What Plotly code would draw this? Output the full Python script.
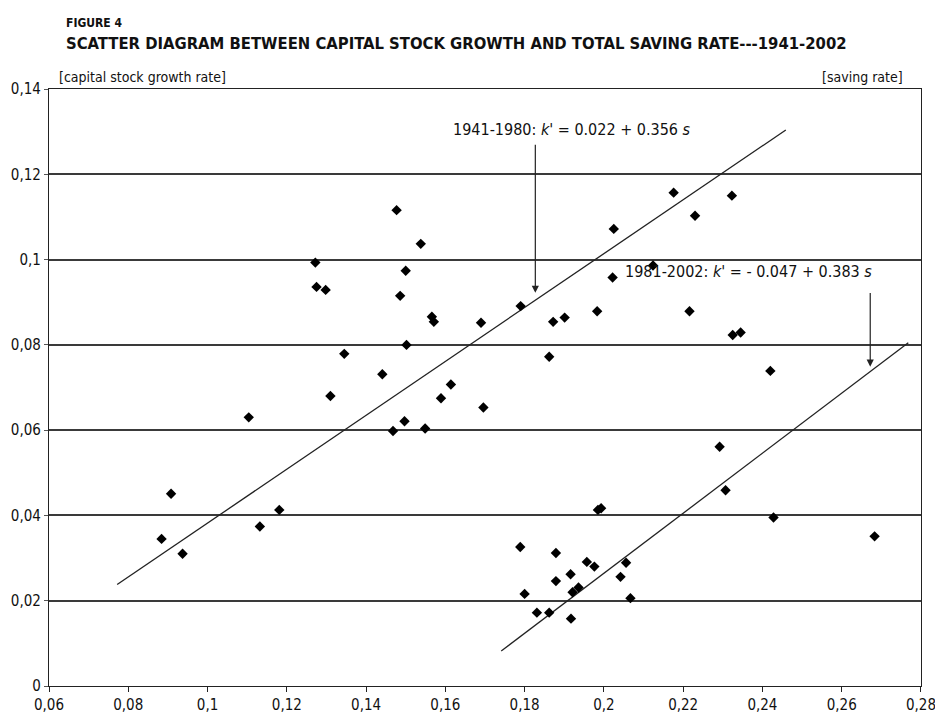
import plotly.graph_objects as go

# 1941-1980 observations (saving rate s, capital stock growth rate k')
s_1941_1980 = [0.0884, 0.0908, 0.0937, 0.1104, 0.1132, 0.1181, 0.1272, 0.1275, 0.1298, 0.1345,
               0.1310, 0.1441, 0.1468, 0.1477, 0.1486, 0.1497, 0.1500, 0.1502, 0.1538, 0.1549,
               0.1566, 0.1571, 0.1589, 0.1614, 0.1690, 0.1696, 0.1790, 0.1862, 0.1872, 0.1901,
               0.1983, 0.2022, 0.2025, 0.2124, 0.2176, 0.2230, 0.2323, 0.2216, 0.2325, 0.2345,
               0.2420]
k_1941_1980 = [0.0345, 0.0451, 0.0310, 0.0630, 0.0374, 0.0413, 0.0993, 0.0936, 0.0929, 0.0779,
               0.0680, 0.0731, 0.0598, 0.1116, 0.0915, 0.0621, 0.0974, 0.0800, 0.1037, 0.0604,
               0.0866, 0.0854, 0.0675, 0.0707, 0.0852, 0.0653, 0.0891, 0.0772, 0.0854, 0.0864,
               0.0879, 0.0958, 0.1072, 0.0986, 0.1157, 0.1103, 0.1150, 0.0879, 0.0823, 0.0829,
               0.0739]

# 1981-2002 observations
s_1981_2002 = [0.1789, 0.1800, 0.1831, 0.1862, 0.1879, 0.1879, 0.1916, 0.1917, 0.1921, 0.1936,
               0.1957, 0.1976, 0.1985, 0.1993, 0.2042, 0.2056, 0.2067, 0.2292, 0.2307, 0.2428,
               0.2683]
k_1981_2002 = [0.0326, 0.0216, 0.0172, 0.0172, 0.0312, 0.0246, 0.0262, 0.0158, 0.0220, 0.0231,
               0.0291, 0.0280, 0.0413, 0.0417, 0.0256, 0.0289, 0.0206, 0.0561, 0.0459, 0.0395,
               0.0351]

# fitted lines as drawn (end points)
fit1_s = [0.0772, 0.2459]
fit1_k = [0.0238, 0.1304]
fit2_s = [0.1741, 0.2768]
fit2_k = [0.0082, 0.0805]

x_ticks = [0.06, 0.08, 0.10, 0.12, 0.14, 0.16, 0.18, 0.20, 0.22, 0.24, 0.26, 0.28]
x_tick_text = ["0,06", "0,08", "0,1", "0,12", "0,14", "0,16", "0,18", "0,2", "0,22", "0,24", "0,26", "0,28"]
y_ticks = [0, 0.02, 0.04, 0.06, 0.08, 0.10, 0.12, 0.14]
y_tick_text = ["0", "0,02", "0,04", "0,06", "0,08", "0,1", "0,12", "0,14"]

FONT = "Liberation Sans Narrow, DejaVu Sans Condensed, Arial Narrow, sans-serif"
INK = "#111111"

fig = go.Figure()
fig.add_trace(go.Scatter(x=fit1_s, y=fit1_k, mode="lines",
                         line=dict(color="#222222", width=1.3), hoverinfo="skip"))
fig.add_trace(go.Scatter(x=fit2_s, y=fit2_k, mode="lines",
                         line=dict(color="#222222", width=1.3), hoverinfo="skip"))
fig.add_trace(go.Scatter(x=s_1941_1980, y=k_1941_1980, mode="markers",
                         marker=dict(symbol="diamond", size=8, color="black")))
fig.add_trace(go.Scatter(x=s_1981_2002, y=k_1981_2002, mode="markers",
                         marker=dict(symbol="diamond", size=8, color="black")))

annotations = [
    dict(text="<b>FIGURE 4</b>", xref="paper", yref="paper", x=0.017, y=1.111,
         xanchor="left", yanchor="middle", showarrow=False,
         font=dict(family=FONT, size=12, color=INK)),
    dict(text="<b>SCATTER DIAGRAM BETWEEN CAPITAL STOCK GROWTH AND TOTAL SAVING RATE---1941-2002</b>",
         xref="paper", yref="paper", x=0.017, y=1.077, xanchor="left", yanchor="middle",
         showarrow=False, font=dict(family=FONT, size=16.5, color=INK)),
    dict(text="[capital stock growth rate]", xref="paper", yref="paper", x=0.009, y=1.020,
         xanchor="left", yanchor="middle", showarrow=False,
         font=dict(family=FONT, size=14, color=INK)),
    dict(text="[saving rate]", xref="paper", yref="paper", x=0.982, y=1.020,
         xanchor="right", yanchor="middle", showarrow=False,
         font=dict(family=FONT, size=14, color=INK)),
    dict(text="1941-1980: <i>k</i>' = 0.022 + 0.356 <i>s</i>", x=0.2225, y=0.1304,
         xanchor="right", yanchor="middle", showarrow=False,
         font=dict(family=FONT, size=16, color=INK)),
    dict(text="1981-2002: <i>k</i>' = - 0.047 + 0.383 <i>s</i>", x=0.2049, y=0.0971,
         xanchor="left", yanchor="middle", showarrow=False,
         font=dict(family=FONT, size=16, color=INK)),
    dict(text="", x=0.1827, y=0.0922, ax=0.1827, ay=0.1273, axref="x", ayref="y",
         showarrow=True, arrowhead=2, arrowsize=1.2, arrowwidth=1.2, arrowcolor="#222222"),
    dict(text="", x=0.2672, y=0.0749, ax=0.2672, ay=0.0925, axref="x", ayref="y",
         showarrow=True, arrowhead=2, arrowsize=1.2, arrowwidth=1.2, arrowcolor="#222222"),
]

fig.update_layout(
    width=935, height=716,
    margin=dict(l=49, r=14, t=89, b=30),
    paper_bgcolor="white", plot_bgcolor="white",
    showlegend=False,
    font=dict(family=FONT, size=15, color=INK),
    annotations=annotations,
)
fig.update_xaxes(range=[0.06, 0.28001], tickvals=x_ticks, ticktext=x_tick_text,
                 showgrid=False, zeroline=False, showline=True, linecolor="#222222",
                 linewidth=1.2, mirror=True, ticks="outside", ticklen=5, tickcolor="#222222",
                 ticklabeloverflow="allow", automargin=False,
                 tickfont=dict(family=FONT, size=15, color=INK))
fig.update_yaxes(range=[0, 0.14001], tickvals=y_ticks, ticktext=y_tick_text,
                 showgrid=True, gridcolor="#3a3a3a", gridwidth=2, zeroline=False,
                 showline=True, linecolor="#222222", linewidth=1.2, mirror=True,
                 ticks="outside", ticklen=4, tickcolor="#555555", automargin=False,
                 tickfont=dict(family=FONT, size=15, color=INK))

fig.write_html("out.html")
